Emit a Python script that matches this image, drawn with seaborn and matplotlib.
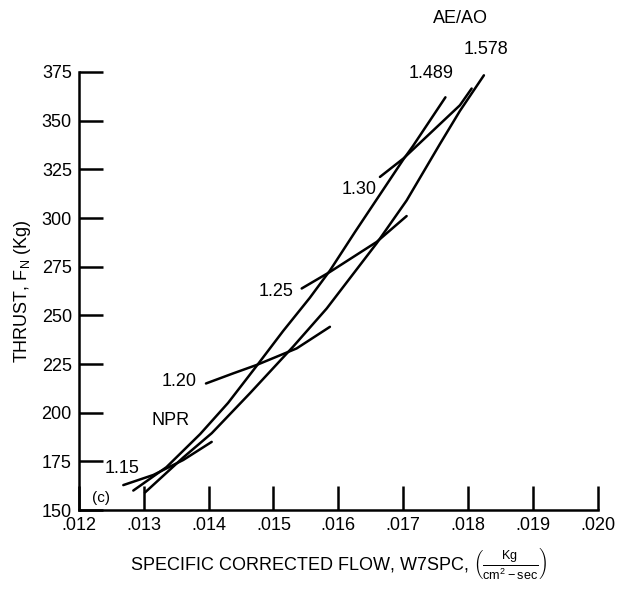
import matplotlib
matplotlib.use("Agg")
import matplotlib.pyplot as plt
import pandas as pd
import seaborn as sns

# AE/AO curves (thrust vs specific corrected flow)
ae1489_flow = [0.01284, 0.01335, 0.01387, 0.01430, 0.01474, 0.01515, 0.01556, 0.01587,
               0.01626, 0.01700, 0.01715, 0.01765]
ae1489_thrust = [160.0, 172.0, 189.0, 205.0, 224.0, 242.0, 259.0, 273.0,
                 293.0, 330.0, 337.0, 362.0]

ae1578_flow = [0.01302, 0.01361, 0.01405, 0.014638, 0.015305, 0.01582, 0.01659, 0.017052,
               0.017565, 0.017873, 0.018243]
ae1578_thrust = [159.0, 177.0, 189.5, 210.0, 234.0, 253.5, 287.0, 309.0,
                 338.0, 355.0, 373.3]

# NPR curves
npr115_flow = [0.012686, 0.013148, 0.01361, 0.014048]
npr115_thrust = [162.8, 168.0, 175.7, 185.0]
npr120_flow = [0.01396, 0.01438, 0.01474, 0.015357, 0.01587]
npr120_thrust = [215.0, 220.2, 224.5, 233.0, 244.1]
npr125_flow = [0.015435, 0.01587, 0.01659, 0.017052]
npr125_thrust = [263.8, 272.3, 287.7, 301.0]
npr130_flow = [0.016641, 0.0170, 0.017411, 0.017873, 0.018054]
npr130_thrust = [321.1, 330.5, 343.4, 357.9, 366.5]

x_ticks = [0.012, 0.013, 0.014, 0.015, 0.016, 0.017, 0.018, 0.019, 0.020]
x_tick_labels = [".012", ".013", ".014", ".015", ".016", ".017", ".018", ".019", ".020"]
y_ticks = [150, 175, 200, 225, 250, 275, 300, 325, 350, 375]

curves = {
    "ae1489": (ae1489_flow, ae1489_thrust),
    "ae1578": (ae1578_flow, ae1578_thrust),
    "npr115": (npr115_flow, npr115_thrust),
    "npr120": (npr120_flow, npr120_thrust),
    "npr125": (npr125_flow, npr125_thrust),
    "npr130": (npr130_flow, npr130_thrust),
}
rows = []
for name, (fx, fy) in curves.items():
    for a, b in zip(fx, fy):
        rows.append({"curve": name, "flow": a, "thrust": b})
df = pd.DataFrame(rows)

sns.set_style("ticks")
plt.rcParams['font.family'] = ['Liberation Sans', 'DejaVu Sans']
plt.rcParams['mathtext.fontset'] = 'custom'
plt.rcParams['mathtext.rm'] = 'Liberation Sans'
plt.rcParams['axes.labelcolor'] = 'black'
plt.rcParams['text.color'] = 'black'

fig = plt.figure(figsize=(6.18, 6.02), dpi=100)
ax = fig.add_axes([0.1275, 0.1528, 0.840, 0.7276])

for name in curves:
    sub = df[df["curve"] == name]
    sns.lineplot(data=sub, x="flow", y="thrust", sort=False, color="black",
                 linewidth=1.8, ax=ax, estimator=None)

ax.set_xlim(0.012, 0.020)
ax.set_ylim(150, 375)
ax.set_xticks(x_ticks)
ax.set_xticklabels(x_tick_labels)
ax.set_yticks(y_ticks)
for s in ["top", "right"]:
    ax.spines[s].set_visible(False)
for s in ["left", "bottom"]:
    ax.spines[s].set_linewidth(1.8)
    ax.spines[s].set_color("black")
ax.tick_params(axis="both", direction="in", length=17, width=1.8, color="black",
               labelsize=13, labelcolor="black", pad=5)

ax.set_xlabel(r"SPECIFIC CORRECTED FLOW, W7SPC, $\left(\frac{\mathrm{Kg}}{\mathrm{cm^2 - sec}}\right)$",
              fontsize=13, labelpad=8, color="black")
ax.set_ylabel(r"THRUST, F$_\mathrm{N}$ (Kg)", fontsize=13, labelpad=6, color="black")

txt = dict(fontsize=13, color="black", clip_on=False)
ax.text(0.01788, 402.5, "AE/AO", ha="center", va="center", **txt)
ax.text(0.018268, 386.5, "1.578", ha="center", va="center", **txt)
ax.text(0.017436, 374, "1.489", ha="center", va="center", **txt)
ax.text(0.016313, 314.6, "1.30", ha="center", va="center", **txt)
ax.text(0.015038, 262, "1.25", ha="center", va="center", **txt)
ax.text(0.013549, 215.9, "1.20", ha="center", va="center", **txt)
ax.text(0.013410, 195.8, "NPR", ha="center", va="center", **txt)
ax.text(0.012669, 171.4, "1.15", ha="center", va="center", **txt)
ax.text(0.012335, 156, "(c)", ha="center", va="center", fontsize=11, color="black")

fig.savefig("out.png", dpi=100, facecolor="white")
